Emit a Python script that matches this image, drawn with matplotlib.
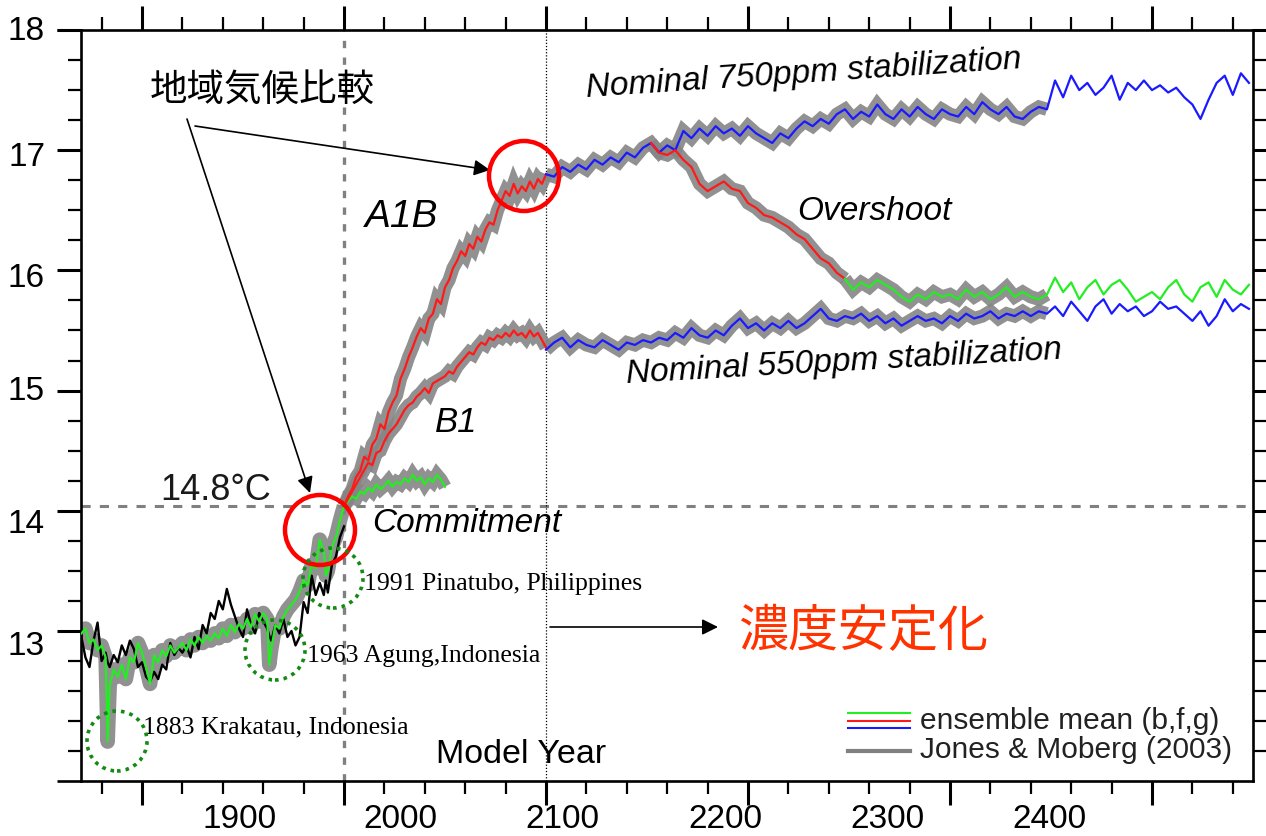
import numpy as np
import matplotlib
matplotlib.use("Agg")
import matplotlib.pyplot as plt
from matplotlib.patches import Ellipse

plt.rcParams['font.family'] = ['Liberation Sans', 'DejaVu Sans']

# ---------------- data ----------------
hist_years = [1870, 1872, 1874, 1876, 1878, 1880, 1882, 1883, 1884, 1886, 1888, 1890, 1892, 1894, 1896, 1898,
              1900, 1902, 1904, 1906, 1908, 1910, 1912, 1914, 1916, 1918, 1920, 1922, 1924, 1926, 1928, 1930,
              1932, 1934, 1936, 1938, 1940, 1942, 1944, 1946, 1948, 1950, 1952, 1954, 1956, 1958, 1960, 1962,
              1963, 1964, 1966, 1968, 1970, 1972, 1974, 1976, 1978, 1980, 1982, 1984, 1986, 1988, 1990, 1991,
              1992, 1994, 1996, 1998, 2000]
hist_model = [12.98, 13.02, 12.90, 12.93, 12.84, 12.88, 12.78, 12.08, 12.55, 12.68, 12.62, 12.72, 12.60, 12.78,
              12.74, 12.90, 12.82, 12.70, 12.56, 12.80, 12.74, 12.84, 12.79, 12.88, 12.82, 12.86, 12.90, 12.84,
              12.93, 12.88, 12.95, 12.90, 12.96, 12.92, 12.98, 12.94, 13.02, 12.96, 13.05, 12.99, 13.06, 13.02,
              13.10, 13.03, 13.14, 13.08, 13.15, 13.10, 12.72, 12.85, 13.05, 13.02, 13.12, 13.18, 13.22, 13.26,
              13.33, 13.42, 13.38, 13.55, 13.52, 13.76, 13.66, 13.46, 13.50, 13.70, 13.78, 13.92, 14.04]
hist_obs = [12.95, 12.78, 12.70, 12.92, 13.07, 12.75, 12.82, 12.74, 12.70, 12.80, 12.74, 12.88, 12.80, 12.92,
            12.85, 12.70, 12.74, 12.62, 12.58, 12.66, 12.60, 12.72, 12.68, 12.90, 12.80, 12.86, 12.82, 12.88,
            12.78, 12.95, 12.85, 13.05, 12.98, 13.15, 13.10, 13.25, 13.18, 13.35, 13.22, 13.12, 13.02, 12.95,
            13.18, 13.05, 12.98, 13.15, 13.08, 13.02, 12.96, 12.92, 13.05, 12.98, 13.10, 12.95, 13.00, 12.88,
            12.95, 13.24, 13.15, 13.46, 13.30, 13.40, 13.30, 13.42, 13.32, 13.55, 13.62, 13.78, 13.87]

commit_start, scen_start, stab_start = 2000, 2000, 2100
commit_vals = [14.04, 14.08, 14.12, 14.10, 14.16, 14.14, 14.19, 14.16, 14.22, 14.18, 14.21, 14.25, 14.20,
               14.24, 14.22, 14.27, 14.24, 14.30, 14.25, 14.28, 14.22, 14.27, 14.24, 14.30, 14.26, 14.20]
a1b_vals = [14.04, 14.12, 14.18, 14.28, 14.33, 14.45, 14.42, 14.55, 14.60, 14.72, 14.68, 14.82, 14.90, 14.96,
            15.10, 15.18, 15.28, 15.36, 15.45, 15.52, 15.48, 15.60, 15.64, 15.76, 15.72, 15.86, 15.92, 16.02,
            16.08, 16.16, 16.12, 16.22, 16.18, 16.28, 16.24, 16.34, 16.40, 16.38, 16.50, 16.58, 16.66, 16.62,
            16.72, 16.64, 16.70, 16.66, 16.74, 16.68, 16.76, 16.72, 16.80]
b1_vals = [14.04, 14.10, 14.16, 14.22, 14.28, 14.34, 14.40, 14.38, 14.48, 14.50, 14.58, 14.64, 14.68, 14.72,
           14.78, 14.84, 14.88, 14.90, 14.95, 14.98, 15.02, 14.98, 15.06, 15.08, 15.10, 15.12, 15.16, 15.14,
           15.20, 15.24, 15.28, 15.32, 15.30, 15.36, 15.40, 15.38, 15.44, 15.42, 15.46, 15.44, 15.48, 15.45,
           15.50, 15.46, 15.48, 15.44, 15.50, 15.45, 15.48, 15.42, 15.36]
stab750_vals = [16.80, 16.78, 16.86, 16.82, 16.88, 16.84, 16.92, 16.88, 16.94, 16.90, 16.98, 16.94, 17.02,
                17.06, 16.98, 17.04, 17.00, 17.16, 17.10, 17.18, 17.12, 17.20, 17.14, 17.18, 17.12, 17.20,
                17.14, 17.10, 17.06, 17.14, 17.10, 17.18, 17.24, 17.20, 17.26, 17.22, 17.30, 17.34, 17.26,
                17.32, 17.28, 17.38, 17.30, 17.26, 17.34, 17.28, 17.36, 17.30, 17.26, 17.34, 17.30, 17.28,
                17.36, 17.30, 17.40, 17.34, 17.30, 17.36, 17.28, 17.26, 17.32, 17.36, 17.34, 17.58, 17.44,
                17.62, 17.50, 17.56, 17.46, 17.52, 17.62, 17.42, 17.56, 17.50, 17.58, 17.50, 17.54, 17.48,
                17.52, 17.44, 17.38, 17.26, 17.42, 17.56, 17.62, 17.46, 17.64, 17.56]
stab550_vals = [15.34, 15.40, 15.44, 15.36, 15.42, 15.38, 15.36, 15.42, 15.38, 15.34, 15.40, 15.38, 15.42,
                15.40, 15.44, 15.42, 15.48, 15.44, 15.52, 15.46, 15.44, 15.50, 15.46, 15.54, 15.60, 15.52,
                15.56, 15.50, 15.56, 15.52, 15.58, 15.52, 15.56, 15.62, 15.68, 15.60, 15.58, 15.62, 15.60,
                15.64, 15.58, 15.62, 15.56, 15.60, 15.54, 15.58, 15.62, 15.58, 15.60, 15.56, 15.62, 15.58,
                15.64, 15.60, 15.62, 15.66, 15.60, 15.64, 15.62, 15.66, 15.62, 15.66, 15.64, 15.70, 15.62,
                15.74, 15.66, 15.58, 15.70, 15.76, 15.64, 15.72, 15.66, 15.70, 15.62, 15.66, 15.74, 15.68,
                15.70, 15.64, 15.58, 15.66, 15.54, 15.62, 15.76, 15.66, 15.72, 15.68]
over_start, over_green_start = 2152, 2248
over_red_vals = [17.06, 16.98, 16.96, 17.00, 16.92, 16.86, 16.72, 16.66, 16.70, 16.74, 16.68, 16.66, 16.56,
                 16.52, 16.46, 16.44, 16.40, 16.36, 16.30, 16.26, 16.18, 16.10, 16.06, 15.98, 15.93]
over_green_vals = [15.93, 15.84, 15.90, 15.86, 15.92, 15.88, 15.84, 15.78, 15.74, 15.80, 15.76, 15.82, 15.78,
                   15.80, 15.76, 15.84, 15.78, 15.82, 15.76, 15.80, 15.86, 15.78, 15.82, 15.78, 15.76, 15.80,
                   15.94, 15.82, 15.90, 15.76, 15.86, 15.92, 15.80, 15.88, 15.92, 15.84, 15.74, 15.78, 15.82,
                   15.76, 15.86, 15.92, 15.80, 15.74, 15.86, 15.90, 15.78, 15.92, 15.84, 15.80, 15.88]
ensemble_end = 2350

x_tick_labels = ['1900', '2000', '2100', '2200', '2300', '2400']
y_tick_labels = ['18', '17', '16', '15', '14', '13']

# ---------------- layout helpers (pixel -> data) ----------------
W, H = 1266, 837
L, R, T, B = 81, 1253, 31, 782


def X(px):
    return 1900 + (px - 142) / 2.02


def Y(py):
    return 18 - (py - 31) / 120.2


fig = plt.figure(figsize=(W / 100, H / 100), dpi=100)
ax = fig.add_axes([L / W, (H - B) / H, (R - L) / W, (B - T) / H])
ax.set_xlim(X(L), X(R))
ax.set_ylim(Y(B), Y(T))

GRAY = '#858585'
GREEN = '#22ee22'
RED = '#ff1a1a'
BLUE = '#1a1aff'


def yrs(start, vals, step):
    return np.arange(start, start + step * len(vals), step)[:len(vals)]


def draw(x, y, color, gray=True, gray_end=None, lw=1.6, band=9.5, join='miter'):
    x = np.asarray(x, float)
    y = np.asarray(y, float)
    if gray:
        m = np.ones_like(x, bool) if gray_end is None else x <= gray_end
        ax.plot(x[m], y[m], color=GRAY, lw=band, solid_capstyle='butt',
                solid_joinstyle=join, zorder=2, alpha=0.9)
    ax.plot(x, y, color=color, lw=lw, zorder=4)


# historical
draw(hist_years, hist_model, GREEN, band=10.5, join='round')
ax.plot(hist_years, hist_obs, color='black', lw=1.7, zorder=3)
# commitment
draw(yrs(commit_start, commit_vals, 2), commit_vals, GREEN)
# A1B, B1
draw(yrs(scen_start, a1b_vals, 2), a1b_vals, RED)
draw(yrs(scen_start, b1_vals, 2), b1_vals, RED)
# stabilization
draw(yrs(stab_start, stab750_vals, 4), stab750_vals, BLUE, gray_end=ensemble_end)
draw(yrs(stab_start, stab550_vals, 4), stab550_vals, BLUE, gray_end=ensemble_end)
draw(yrs(over_start, over_red_vals, 4), over_red_vals, RED)
draw(yrs(over_green_start, over_green_vals, 4), over_green_vals, GREEN, gray_end=ensemble_end)

# reference lines
ax.axhline(Y(507), color='#808080', lw=2.2, ls=(0, (3, 3)), zorder=1)
ax.axvline(2000, color='#808080', lw=2.4, ls=(0, (2.2, 2.8)), zorder=1)
ax.axvline(2100, color='black', lw=0.9, ls=(0, (1, 1.5)), zorder=1)

# spines & ticks
for s in ax.spines.values():
    s.set_linewidth(1.9)
ax.set_xticks(np.arange(1900, 2401, 100))
ax.set_xticks(np.arange(1880, 2450, 20), minor=True)
ax.set_yticks(np.arange(13, 18.01, 1))
ax.set_yticks(np.arange(12.0, 18.0, 0.25), minor=True)
ax.tick_params(axis='both', which='major', direction='out', length=17.5, width=2.2,
               top=True, right=True, labelbottom=False, labelleft=False)
ax.tick_params(axis='both', which='minor', direction='out', length=9.5, width=1.6,
               top=True, right=True)
for yy in (T, B):
    ax.plot([X(57), X(L)], [Y(yy), Y(yy)], color='black', lw=1.9, clip_on=False,
            solid_capstyle='butt')

# tick labels (as placed in the original)
for lab, px in zip(x_tick_labels, [240, 400, 562, 725, 887, 1049]):
    ax.text(X(px), Y(820), lab, ha='center', va='center', fontsize=24)
for lab, py in zip(y_tick_labels, [31, 157, 279, 392, 525, 647]):
    ax.text(X(45), Y(py), lab, ha='right', va='center', fontsize=24)

# annotations
ax.text(X(160), Y(500), '14.8°C', fontsize=26, color='#1a1a1a')
ax.text(X(372), Y(532), 'Commitment', fontsize=24, style='italic')
ax.text(X(365), Y(227), 'A1B', fontsize=28, style='italic')
ax.text(X(435), Y(432), 'B1', fontsize=25, style='italic')
ax.text(X(797), Y(220), 'Overshoot', fontsize=24, style='italic')
ax.text(X(587), Y(97), 'Nominal 750ppm stabilization', fontsize=24, style='italic',
        rotation=3.8, rotation_mode='anchor', ha='left', va='baseline')
ax.text(X(627), Y(383), 'Nominal 550ppm stabilization', fontsize=24, style='italic',
        rotation=3.2, rotation_mode='anchor', ha='left', va='baseline')
ax.text(X(436), Y(763), 'Model Year', fontsize=24.5)

serif = ['Liberation Serif', 'DejaVu Serif']
ax.text(X(364), Y(590), '1991 Pinatubo, Philippines', fontsize=18.5, family=serif)
ax.text(X(307), Y(662), '1963 Agung,Indonesia', fontsize=18.5, family=serif)
ax.text(X(143), Y(733), '1883 Krakatau, Indonesia', fontsize=18.5, family=serif)

cjk = ['Noto Sans CJK JP', 'DejaVu Sans']
ax.text(X(150), Y(90), '地域気候比較', fontsize=27, family=cjk, va='center')
ax.text(X(738), Y(632), '濃度安定化', fontsize=36, family=cjk, va='center', color='#ff3300')

# circles
for cx, cy in [(320, 531), (524, 177)]:
    ax.add_patch(Ellipse((X(cx), Y(cy)), width=70 / 2.02, height=70 / 120.2, fill=False,
                         ec='#ff0000', lw=3.2, zorder=6))
for cx, cy in [(117, 742), (275, 651), (333, 579)]:
    ax.add_patch(Ellipse((X(cx), Y(cy)), width=60 / 2.02, height=60 / 120.2, fill=False,
                         ec='#138a13', lw=2.6, ls=(0, (1, 1.4)), zorder=6))

# arrows
ap = dict(arrowstyle='-|>', color='black', lw=1.2, mutation_scale=24, shrinkA=0, shrinkB=0)
ax.annotate('', xy=(X(490), Y(171)), xytext=(X(195), Y(127)), arrowprops=ap)
ax.annotate('', xy=(X(310), Y(494)), xytext=(X(187), Y(120)), arrowprops=ap)
ax.annotate('', xy=(X(718), Y(628)), xytext=(X(550), Y(628)), arrowprops=ap)

# legend (hand-drawn as in the original)
for py, c in [(714, GREEN), (722, RED), (729, BLUE)]:
    ax.plot([X(848), X(910)], [Y(py), Y(py)], color=c, lw=1.5)
ax.plot([X(848), X(910)], [Y(752), Y(752)], color='#808080', lw=3)
ax.text(X(920), Y(721), 'ensemble mean (b,f,g)', fontsize=21.5, va='center', color='#222222')
ax.text(X(920), Y(750), 'Jones & Moberg (2003)', fontsize=21.5, va='center', color='#222222')

fig.savefig('out.png', dpi=100)
